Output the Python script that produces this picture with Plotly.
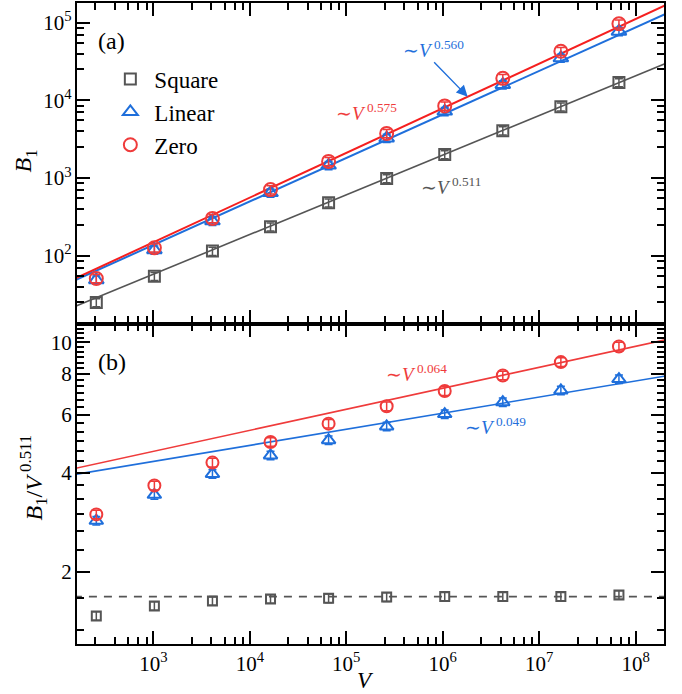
import numpy as np
import plotly.graph_objects as go

# ---------------- data ----------------
V = [256, 1024, 4096, 16384, 65536, 262144, 1048576, 4194304, 16777216, 67108864]
# B1 / V^0.511
ratio_square = [1.467, 1.573, 1.630, 1.653, 1.660, 1.675, 1.680, 1.680, 1.680, 1.700]
ratio_linear = [2.86, 3.43, 3.97, 4.52, 5.03, 5.54, 6.04, 6.57, 7.13, 7.72]
ratio_zero = [2.99, 3.66, 4.30, 4.97, 5.65, 6.38, 7.10, 7.92, 8.70, 9.70]
norm_exp = 0.511

# power-law fits  (prefactor, exponent)
fit_a_square = (1.69, 0.511)
fit_a_linear = (2.87, 0.560)
fit_a_zero = (2.80, 0.575)
fit_b_linear = (3.09, 0.049)
fit_b_zero = (2.99, 0.064)
plateau_square = 1.68
V_line = [150, 2.2e8]

x_major = [1e3, 1e4, 1e5, 1e6, 1e7, 1e8]
x_major_text = ["10<sup>3</sup>", "10<sup>4</sup>", "10<sup>5</sup>", "10<sup>6</sup>",
                "10<sup>7</sup>", "10<sup>8</sup>"]
y_a_major = [1e2, 1e3, 1e4, 1e5]
y_a_major_text = ["10<sup>2</sup>", "10<sup>3</sup>", "10<sup>4</sup>", "10<sup>5</sup>"]
y_b_major = [2, 4, 6, 8, 10]
y_b_major_text = ["2", "4", "6", "8", "10"]
minor_subs = [2.5, 4, 5.5, 7, 8.5]
y_b_minor = [4 / 3, 5 / 3, 7 / 3, 8 / 3, 3, 10 / 3, 11 / 3, 13 / 3, 14 / 3, 5, 16 / 3, 17 / 3,
             19 / 3, 20 / 3, 7, 22 / 3, 23 / 3, 25 / 3, 26 / 3, 9, 28 / 3, 29 / 3, 31 / 3, 32 / 3, 11, 34 / 3]

# ---------------- derived ----------------
Va = np.array(V, dtype=float)
B_square = np.array(ratio_square) * Va ** norm_exp
B_linear = np.array(ratio_linear) * Va ** norm_exp
B_zero = np.array(ratio_zero) * Va ** norm_exp
VL = np.array(V_line)
x_minor = [s * 10 ** n for n in range(2, 9) for s in minor_subs]
y_a_minor = [s * 10 ** n for n in range(1, 6) for s in minor_subs]

GRAY = "#555555"
BLUE = "#1f6fdb"
RED = "#ef3b3b"
REDL = "#f51f1f"
FONT = "Liberation Serif, Times New Roman, Times, serif"

fig = go.Figure()

def pts(y, sym, size, color, name, xa, ya, err, show):
    fig.add_trace(go.Scatter(
        x=V, y=y, mode="markers", name=name, showlegend=show,
        xaxis=xa, yaxis=ya,
        marker=dict(symbol=sym, size=size, color=color, line=dict(width=2, color=color)),
        error_y=dict(type="percent", value=err, color=color, thickness=1.5, width=4),
    ))

def line(y, color, width, xa, ya, dash="solid"):
    fig.add_trace(go.Scatter(x=V_line, y=y, mode="lines", showlegend=False,
                             xaxis=xa, yaxis=ya, line=dict(color=color, width=width, dash=dash),
                             hoverinfo="skip"))

# panel (a)
line(fit_a_square[0] * VL ** fit_a_square[1], GRAY, 1.6, "x2", "y2")
line(fit_a_linear[0] * VL ** fit_a_linear[1], BLUE, 2, "x2", "y2")
line(fit_a_zero[0] * VL ** fit_a_zero[1], REDL, 2, "x2", "y2")
pts(B_square, "square-open", 11, GRAY, "Square", "x2", "y2", 12, True)
pts(B_linear, "triangle-up-open", 13, BLUE, "Linear", "x2", "y2", 12, True)
pts(B_zero, "circle-open", 13, RED, "Zero", "x2", "y2", 12, True)

# panel (b)
line([plateau_square, plateau_square], GRAY, 1.6, "x", "y", dash="8px,7px")
line(fit_b_linear[0] * VL ** fit_b_linear[1], BLUE, 1.6, "x", "y")
line(fit_b_zero[0] * VL ** fit_b_zero[1], RED, 1.6, "x", "y")
pts(ratio_square, "square-open", 9, GRAY, "Square", "x", "y", 3, False)
pts(ratio_linear, "triangle-up-open", 12, BLUE, "Linear", "x", "y", 3, False)
pts(ratio_zero, "circle-open", 12, RED, "Zero", "x", "y", 3, False)

axis_common = dict(
    showline=True, linewidth=2.2, linecolor="black", mirror="allticks",
    ticks="inside", ticklen=13, tickwidth=2, tickcolor="black",
    showgrid=False, zeroline=False,
    tickfont=dict(family=FONT, size=21, color="black"),
)
minor_common = dict(tickmode="array", ticks="inside", ticklen=7, tickwidth=2, tickcolor="black",
                    showgrid=False)

fig.update_layout(
    width=682, height=694,
    margin=dict(l=77, r=18, t=1, b=50),
    paper_bgcolor="white", plot_bgcolor="white",
    font=dict(family=FONT, color="black"),
    xaxis=dict(type="log", range=[2.208, 8.294], domain=[0, 1], anchor="y",
               tickmode="array", tickvals=x_major, ticktext=x_major_text,
               minor=dict(tickvals=x_minor, **minor_common), **axis_common),
    xaxis2=dict(type="log", range=[2.208, 8.294], domain=[0, 1], anchor="y2", matches="x",
                tickmode="array", tickvals=x_major, ticktext=x_major_text, showticklabels=False,
                minor=dict(tickvals=x_minor, **minor_common), **axis_common),
    yaxis=dict(type="log", range=[0.081, 1.057], domain=[0, 0.5], anchor="x",
               tickmode="array", tickvals=y_b_major, ticktext=y_b_major_text,
               ticklabelstandoff=-1,
               minor=dict(tickvals=y_b_minor, **minor_common), **axis_common),
    yaxis2=dict(type="log", range=[1.126, 5.253], domain=[0.5, 1], anchor="x2",
                tickmode="array", tickvals=y_a_major, ticktext=y_a_major_text,
                ticklabelstandoff=-1,
                minor=dict(tickvals=y_a_minor, **minor_common), **axis_common),
    legend=dict(x=0.05, y=0.915, xanchor="left", yanchor="top",
                font=dict(family=FONT, size=23, color="black"),
                bgcolor="rgba(0,0,0,0)", itemwidth=38, tracegroupgap=0),
    showlegend=True,
)

def px2paper(px, py):
    return (px - 77) / 587.0, (644 - py) / 643.0

def ann(text, px, py, size, color="black", xanchor="center", angle=0):
    x, y = px2paper(px, py)
    fig.add_annotation(text=text, x=x, y=y, xref="paper", yref="paper", showarrow=False,
                       xanchor=xanchor, yanchor="middle", textangle=angle,
                       font=dict(family=FONT, size=size, color=color))

ann("(a)", 111, 39, 24)
ann("(b)", 112, 361, 24)
ann("∼<i>V</i><sup> 0.575</sup>", 334, 110, 19, RED, "left")
ann("∼<i>V</i><sup> 0.560</sup>", 401, 47, 19, BLUE, "left")
ann("∼<i>V</i><sup> 0.511</sup>", 419, 185, 19, GRAY, "left")
ann("∼<i>V</i><sup> 0.064</sup>", 384, 372, 19, RED, "left")
ann("∼<i>V</i><sup> 0.049</sup>", 463, 425, 19, BLUE, "left")
ann("<i>B</i><sub>1</sub>", 25, 160, 24, angle=-90)
ann("<i>B</i><sub>1</sub>/<i>V</i><sup> 0.511</sup>", 33, 477, 24, angle=-90)
ann("<i>V</i>", 365, 681, 23)

# arrow for ~V^0.560
tx, ty = px2paper(467.7, 95)
fig.add_annotation(x=tx, y=ty, xref="paper", yref="paper", text="", showarrow=True,
                   ax=-35, ay=-36, axref="pixel", ayref="pixel",
                   arrowhead=2, arrowsize=1.6, arrowwidth=1.4, arrowcolor=BLUE)

fig.write_html("out.html")
